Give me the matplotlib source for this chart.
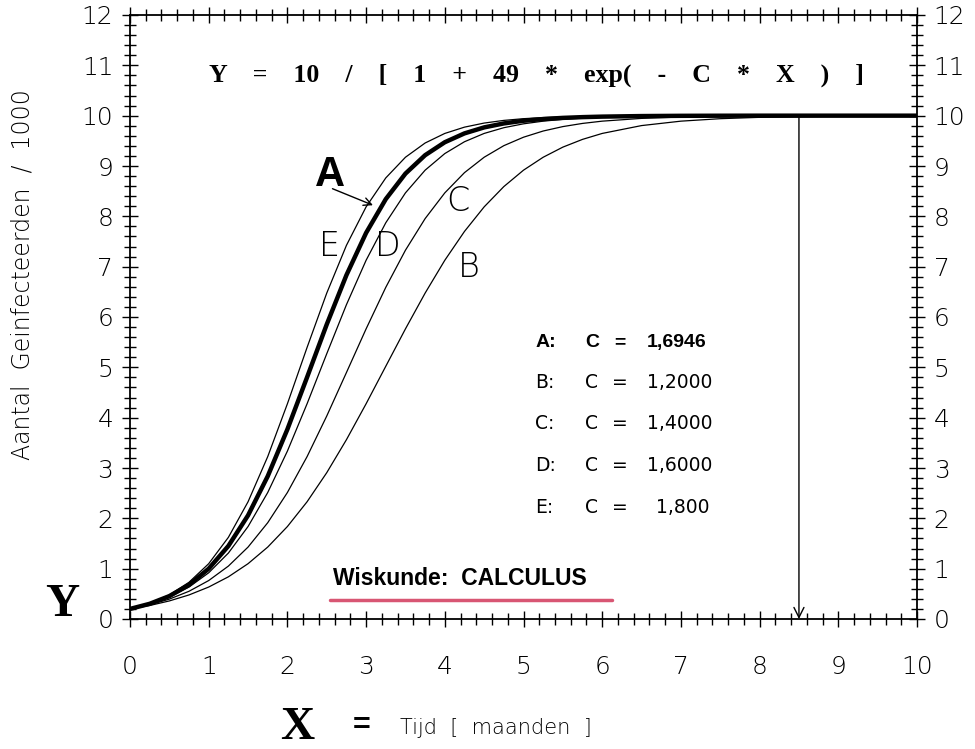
import matplotlib
matplotlib.use("Agg")
import matplotlib.pyplot as plt
from matplotlib.ticker import MultipleLocator

# waarden (Y in duizenden)
x = [0, 0.25, 0.5, 0.75, 1, 1.25, 1.5, 1.75, 2, 2.25, 2.5, 2.75, 3, 3.25, 3.5,
     3.75, 4, 4.25, 4.5, 4.75, 5, 5.25, 5.5, 5.75, 6, 6.5, 7, 7.5, 8, 9, 10]

y_A = [0.200, 0.302, 0.455, 0.678, 1.000, 1.451, 2.059, 2.837, 3.769, 4.803,
       5.853, 6.832, 7.671, 8.342, 8.849, 9.215, 9.472, 9.648, 9.767, 9.846,
       9.899, 9.933, 9.956, 9.971, 9.981, 9.992, 9.997, 9.999, 10.0, 10.0, 10.0]
y_B = [0.200, 0.268, 0.359, 0.478, 0.635, 0.838, 1.099, 1.429, 1.837, 2.329,
       2.907, 3.562, 4.276, 5.021, 5.764, 6.475, 7.127, 7.700, 8.188, 8.591,
       8.917, 9.174, 9.375, 9.529, 9.647, 9.803, 9.891, 9.940, 9.967, 9.990, 9.997]
y_C = [0.200, 0.281, 0.395, 0.551, 0.764, 1.051, 1.429, 1.913, 2.513, 3.226,
       4.033, 4.896, 5.764, 6.589, 7.327, 7.955, 8.466, 8.868, 9.174, 9.404,
       9.572, 9.695, 9.783, 9.846, 9.891, 9.946, 9.973, 9.987, 9.993, 9.998, 10.0]
y_D = [0.200, 0.296, 0.434, 0.635, 0.918, 1.310, 1.837, 2.513, 3.336, 4.276,
       5.270, 6.244, 7.127, 7.872, 8.466, 8.917, 9.247, 9.482, 9.647, 9.761,
       9.838, 9.891, 9.927, 9.951, 9.967, 9.985, 9.993, 9.997, 9.999, 10.0, 10.0]
y_E = [0.200, 0.310, 0.478, 0.730, 1.099, 1.622, 2.329, 3.226, 4.276, 5.395,
       6.475, 7.423, 8.188, 8.763, 9.174, 9.457, 9.647, 9.772, 9.853, 9.906,
       9.940, 9.962, 9.975, 9.984, 9.990, 9.996, 9.998, 9.999, 10.0, 10.0, 10.0]

namen = ["A:", "B:", "C:", "D:", "E:"]
c_waarden = ["1,6946", "1,2000", "1,4000", "1,6000", "1,800"]

formule = ["Y", "=", "10", "/", "[", "1", "+", "49", "*", "exp(", "-", "C",
           "*", "X", ")", "]"]

dun = "DejaVu Sans"
serif = "Liberation Serif"
vet = "Liberation Sans"

fig = plt.figure(figsize=(9.75, 7.49), dpi=100)
ax = fig.add_axes([130/975, 1 - 619/749, 787/975, 604/749])

for ys in [y_B, y_C, y_D, y_E]:
    ax.plot(x, ys, color="black", lw=0.9)
ax.plot(x, y_A, color="black", lw=3.2)

ax.set_xlim(0, 10)
ax.set_ylim(0, 12)
ax.xaxis.set_major_locator(MultipleLocator(1))
ax.xaxis.set_minor_locator(MultipleLocator(0.2))
ax.yaxis.set_major_locator(MultipleLocator(1))
ax.yaxis.set_minor_locator(MultipleLocator(0.2))
ax.tick_params(which="both", direction="inout", top=True, right=True,
               labelright=True, width=1.0, color="black")
ax.tick_params(which="major", length=12)
ax.tick_params(which="minor", length=8)
ax.tick_params(axis="x", which="major", pad=20)
ax.tick_params(axis="y", which="major", pad=6)
for lab in ax.get_xticklabels() + ax.get_yticklabels():
    lab.set_fontfamily(dun)
    lab.set_fontweight("light")
    lab.set_fontsize(18)
for side in ax.spines.values():
    side.set_linewidth(1.3)

# formule bovenaan
ax.text(5.17, 10.8, "    ".join(formule), family=serif, weight="bold",
        fontsize=18.6, ha="center", va="center")

# letters bij de krommen
ax.text(2.54, 8.83, "A", family=vet, weight="bold", fontsize=30,
        ha="center", va="center")
ax.annotate("", xy=(3.12, 8.2), xytext=(2.54, 8.57),
            arrowprops=dict(arrowstyle="->", lw=1.0, color="black",
                            mutation_scale=14))
for letter, lx, ly in [("E", 2.54, 7.40), ("D", 3.27, 7.40),
                       ("C", 4.16, 8.29), ("B", 4.30, 6.98)]:
    ax.text(lx, ly, letter, family=dun, weight="light", fontsize=24,
            ha="center", va="center")

# legenda met de C-waarden
rijen = [5.49, 4.69, 3.88, 3.04, 2.21]
for i, (naam, cw) in enumerate(zip(namen, c_waarden)):
    if i == 0:
        kw = dict(family=vet, weight="bold", fontsize=14, va="center")
    else:
        kw = dict(family=dun, weight="normal", fontsize=13.5, va="center")
    ax.text(5.15, rijen[i], naam, ha="left", **kw)
    ax.text(5.78, rijen[i], "C", ha="left", **kw)
    ax.text(6.22, rijen[i], "=", ha="center", **kw)
    ax.text(6.57 if i < 4 else 6.68, rijen[i], cw, ha="left", **kw)

# Wiskunde: CALCULUS
ax.text(2.58, 0.80, "Wiskunde:  CALCULUS", family=vet, weight="bold",
        fontsize=16.5, ha="left", va="center")
ax.plot([2.54, 6.12], [0.38, 0.38], color="#d2385a", lw=2.5, alpha=0.85,
        solid_capstyle="round")

# pijl naar beneden bij x = 8,5
ax.annotate("", xy=(8.5, 0.0), xytext=(8.5, 10.0),
            arrowprops=dict(arrowstyle="->", lw=1.0, color="black",
                            mutation_scale=18, shrinkA=0, shrinkB=0))

# as-titels
fig.text(23/975, 1 - 275/749, "Aantal  Geinfecteerden  /  1000", family=dun,
         weight="light", fontsize=17, rotation=90, ha="center", va="center")
fig.text(62/975, 1 - 605/749, "Y", family=serif, weight="bold", fontsize=34,
         ha="center", va="center")
fig.text(297/975, 1 - 728/749, "X", family=serif, weight="bold", fontsize=34,
         ha="center", va="center")
fig.text(362/975, 1 - 726/749, "=", family=vet, weight="bold", fontsize=22,
         ha="center", va="center")
fig.text(400/975, 1 - 728/749, "Tijd  [  maanden  ]", family=dun,
         weight="light", fontsize=15, ha="left", va="center")

fig.savefig("out.png", dpi=100)
